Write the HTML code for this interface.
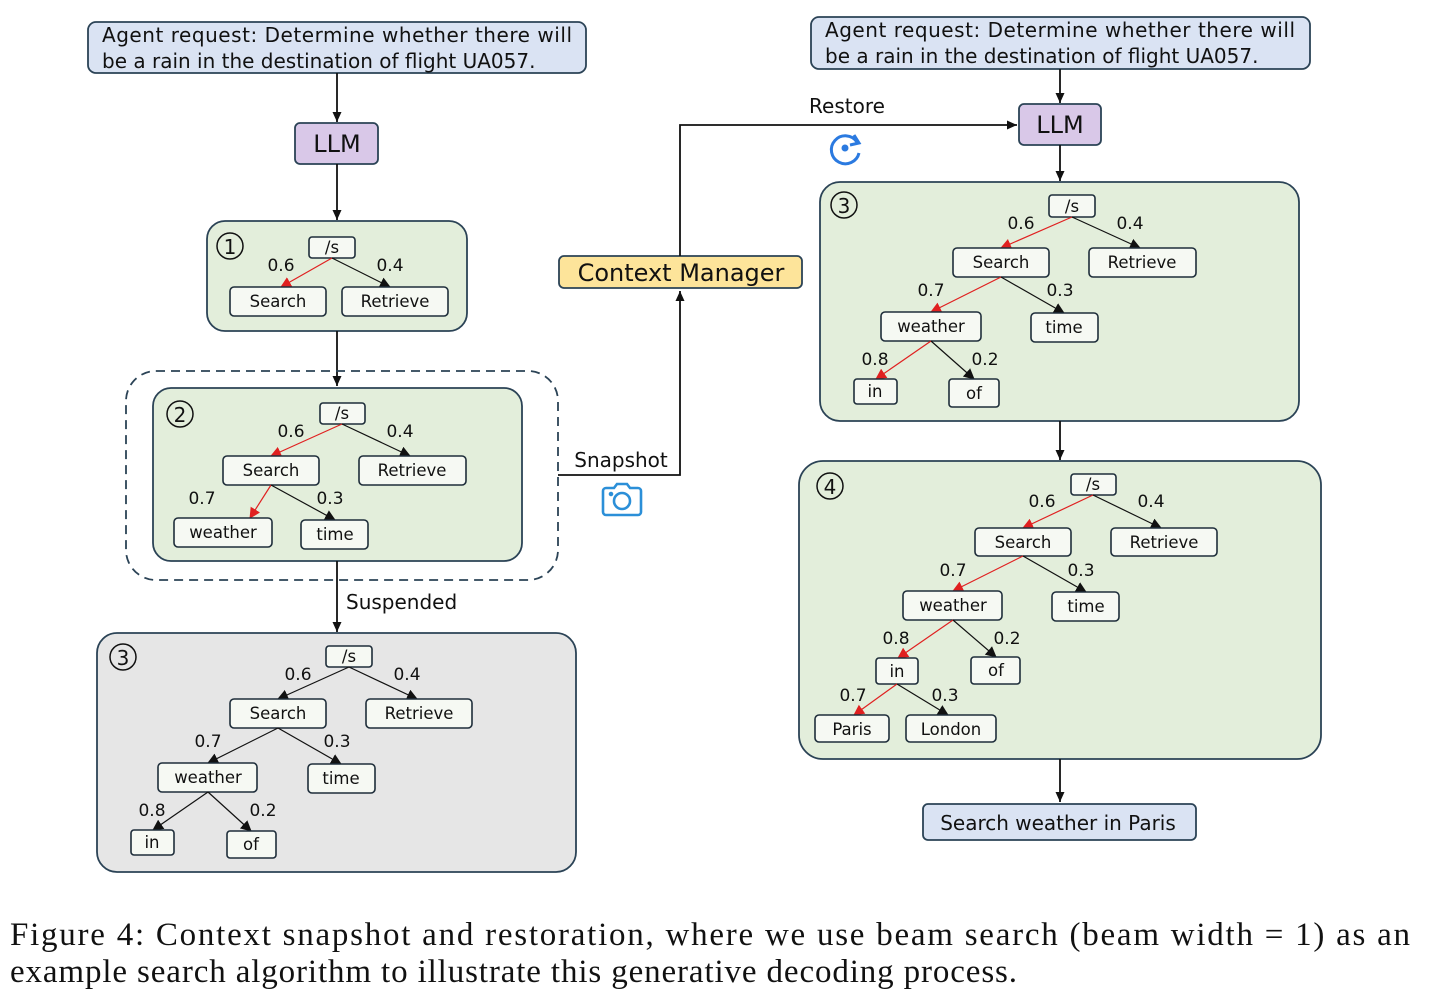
<!DOCTYPE html>
<html><head><meta charset="utf-8"><style>
html,body{margin:0;padding:0;background:#fff;}
svg{display:block;}
text{font-family:"DejaVu Sans","Liberation Sans",sans-serif;fill:#111;}
.n{font-size:16.5px;text-anchor:middle;}
.w{font-size:17px;text-anchor:middle;}
.cap{font-family:"Liberation Serif",serif;font-size:33px;}
.nb{fill:#f6f9f3;stroke:#1e2d3a;stroke-width:1.6;}
.pg{fill:#e3eedb;stroke:#2b4356;stroke-width:1.8;}
.pgr{fill:#e6e6e6;stroke:#2b4356;stroke-width:1.8;}
.bl{stroke:#111;stroke-width:1.2;fill:none;}
.rd{stroke:#e02020;stroke-width:1.2;fill:none;}
.ln{stroke:#111;stroke-width:1.8;fill:none;}
</style></head><body>
<svg width="1440" height="1002" xmlns="http://www.w3.org/2000/svg">
<defs>
<marker id="ab" markerWidth="14" markerHeight="14" refX="10" refY="6" orient="auto" markerUnits="userSpaceOnUse"><path d="M0,0.5 L11,6 L0,11.5z" fill="#111"/></marker>
<marker id="ar" markerWidth="14" markerHeight="14" refX="10" refY="6" orient="auto" markerUnits="userSpaceOnUse"><path d="M0,0.5 L11,6 L0,11.5z" fill="#e02020"/></marker>
<marker id="big" markerWidth="12" markerHeight="12" refX="10" refY="6" orient="auto" markerUnits="userSpaceOnUse"><path d="M0,1.5 L10,6 L0,10.5z" fill="#111"/></marker>
</defs>

<!-- LEFT -->
<rect x="88" y="22" width="498" height="51" rx="8" fill="#dae3f3" stroke="#2b4356" stroke-width="1.8"/>
<text x="102" y="42" font-size="20" textLength="470">Agent request: Determine whether there will</text>
<text x="102" y="68" font-size="20">be a rain in the destination of flight UA057.</text>
<line x1="337" y1="73" x2="337" y2="122" class="ln" marker-end="url(#big)"/>
<rect x="295" y="123" width="83" height="41" rx="5" fill="#d9c8e8" stroke="#2b4356" stroke-width="1.8"/>
<text x="337" y="152" font-size="24" text-anchor="middle">LLM</text>
<line x1="337" y1="164" x2="337" y2="220" class="ln" marker-end="url(#big)"/>

<!-- panel 1 -->
<rect x="207" y="221" width="260" height="110" rx="18" class="pg"/>
<circle cx="230" cy="246" r="13" fill="none" stroke="#111" stroke-width="1.5"/><text x="230" y="254" font-size="20" text-anchor="middle">1</text>
<rect x="309" y="237" width="46" height="21" rx="3" class="nb"/><text x="332" y="253" class="n">/s</text>
<line x1="332" y1="258" x2="281" y2="287" class="rd" marker-end="url(#ar)"/>
<line x1="332" y1="258" x2="390" y2="287" class="bl" marker-end="url(#ab)"/>
<text x="281" y="271" class="w">0.6</text><text x="390" y="271" class="w">0.4</text>
<rect x="230" y="287" width="96" height="29" rx="4" class="nb"/><text x="278" y="307" class="n">Search</text>
<rect x="342" y="287" width="106" height="29" rx="4" class="nb"/><text x="395" y="307" class="n">Retrieve</text>

<line x1="337" y1="331" x2="337" y2="386" class="ln" marker-end="url(#big)"/>
<rect x="126" y="371" width="432" height="209" rx="30" fill="none" stroke="#2b4356" stroke-width="1.8" stroke-dasharray="9,6"/>

<!-- panel 2 -->
<rect x="153" y="388" width="369" height="173" rx="18" class="pg"/>
<circle cx="180" cy="414" r="13" fill="none" stroke="#111" stroke-width="1.5"/><text x="180" y="422" font-size="20" text-anchor="middle">2</text>
<rect x="320" y="403" width="45" height="21" rx="3" class="nb"/><text x="342" y="419" class="n">/s</text>
<line x1="342" y1="424" x2="271" y2="456" class="rd" marker-end="url(#ar)"/>
<line x1="342" y1="424" x2="410" y2="456" class="bl" marker-end="url(#ab)"/>
<text x="291" y="437" class="w">0.6</text><text x="400" y="437" class="w">0.4</text>
<rect x="223" y="456" width="96" height="29" rx="4" class="nb"/><text x="271" y="476" class="n">Search</text>
<rect x="359" y="456" width="107" height="29" rx="4" class="nb"/><text x="412" y="476" class="n">Retrieve</text>
<line x1="271" y1="485" x2="250" y2="518" class="rd" marker-end="url(#ar)"/>
<line x1="271" y1="485" x2="335" y2="520" class="bl" marker-end="url(#ab)"/>
<text x="202" y="504" class="w">0.7</text><text x="330" y="504" class="w">0.3</text>
<rect x="174" y="518" width="98" height="29" rx="4" class="nb"/><text x="223" y="538" class="n">weather</text>
<rect x="301" y="520" width="67" height="29" rx="4" class="nb"/><text x="335" y="540" class="n">time</text>

<line x1="337" y1="561" x2="337" y2="632" class="ln" marker-end="url(#big)"/>
<text x="346" y="609" font-size="20">Suspended</text>

<!-- panel 3 grey -->
<rect x="97" y="633" width="479" height="239" rx="20" class="pgr"/>
<circle cx="123" cy="657" r="13" fill="none" stroke="#111" stroke-width="1.5"/><text x="123" y="665" font-size="20" text-anchor="middle">3</text>
<rect x="326" y="646" width="46" height="21" rx="3" class="nb"/><text x="349" y="662" class="n">/s</text>
<line x1="349" y1="667" x2="278" y2="699" class="bl" marker-end="url(#ab)"/>
<line x1="349" y1="667" x2="417" y2="699" class="bl" marker-end="url(#ab)"/>
<text x="298" y="680" class="w">0.6</text><text x="407" y="680" class="w">0.4</text>
<rect x="230" y="699" width="96" height="29" rx="4" class="nb"/><text x="278" y="719" class="n">Search</text>
<rect x="366" y="699" width="106" height="29" rx="4" class="nb"/><text x="419" y="719" class="n">Retrieve</text>
<line x1="278" y1="728" x2="208" y2="763" class="bl" marker-end="url(#ab)"/>
<line x1="278" y1="728" x2="341" y2="764" class="bl" marker-end="url(#ab)"/>
<text x="208" y="747" class="w">0.7</text><text x="337" y="747" class="w">0.3</text>
<rect x="158" y="763" width="99" height="29" rx="4" class="nb"/><text x="208" y="783" class="n">weather</text>
<rect x="308" y="764" width="67" height="29" rx="4" class="nb"/><text x="341" y="784" class="n">time</text>
<line x1="208" y1="792" x2="153" y2="830" class="bl" marker-end="url(#ab)"/>
<line x1="208" y1="792" x2="251" y2="831" class="bl" marker-end="url(#ab)"/>
<text x="152" y="816" class="w">0.8</text><text x="263" y="816" class="w">0.2</text>
<rect x="131" y="830" width="43" height="25" rx="3" class="nb"/><text x="152" y="848" class="n">in</text>
<rect x="227" y="831" width="49" height="27" rx="3" class="nb"/><text x="251" y="850" class="n">of</text>

<!-- MIDDLE -->
<polyline points="558,475 680,475 680,291" class="ln" marker-end="url(#big)"/>
<text x="621" y="467" font-size="20" text-anchor="middle">Snapshot</text>
<g transform="translate(603,482)" fill="none" stroke="#2b8fd8" stroke-width="2.6">
<path d="M3,6 h8 l3,-4 h10 l3,4 h8 a3,3 0 0 1 3,3 v21 a3,3 0 0 1 -3,3 h-32 a3,3 0 0 1 -3,-3 v-21 a3,3 0 0 1 3,-3z"/>
<circle cx="19" cy="19" r="8"/><circle cx="8" cy="12" r="1" fill="#2b8fd8"/>
</g>
<rect x="559" y="256" width="243" height="32" rx="5" fill="#fde49a" stroke="#2b4356" stroke-width="1.8"/>
<text x="681" y="281" font-size="24" text-anchor="middle">Context Manager</text>
<polyline points="680,256 680,125 1017,125" class="ln" marker-end="url(#big)"/>
<text x="847" y="113" font-size="20" text-anchor="middle">Restore</text>
<g transform="translate(845,148)" fill="none" stroke="#2b7ae0" stroke-width="3">
<path d="M12,-6 A14,14 0 1 0 14,5"/><path d="M9,-13 L14,-5 L5,-3" stroke-width="3"/>
<circle cx="0" cy="0" r="3.5" fill="#2b7ae0" stroke="none"/>
</g>

<!-- RIGHT -->
<rect x="811" y="17" width="499" height="52" rx="8" fill="#dae3f3" stroke="#2b4356" stroke-width="1.8"/>
<text x="825" y="37" font-size="20" textLength="470">Agent request: Determine whether there will</text>
<text x="825" y="63" font-size="20">be a rain in the destination of flight UA057.</text>
<line x1="1060" y1="69" x2="1060" y2="103" class="ln" marker-end="url(#big)"/>
<rect x="1019" y="104" width="82" height="41" rx="5" fill="#d9c8e8" stroke="#2b4356" stroke-width="1.8"/>
<text x="1060" y="133" font-size="24" text-anchor="middle">LLM</text>
<line x1="1060" y1="145" x2="1060" y2="181" class="ln" marker-end="url(#big)"/>

<!-- panel R3 -->
<rect x="820" y="182" width="479" height="239" rx="20" class="pg"/>
<circle cx="844" cy="205" r="13" fill="none" stroke="#111" stroke-width="1.5"/><text x="844" y="213" font-size="20" text-anchor="middle">3</text>
<rect x="1049" y="195" width="46" height="22" rx="3" class="nb"/><text x="1072" y="212" class="n">/s</text>
<line x1="1072" y1="217" x2="1001" y2="248" class="rd" marker-end="url(#ar)"/>
<line x1="1072" y1="217" x2="1140" y2="248" class="bl" marker-end="url(#ab)"/>
<text x="1021" y="229" class="w">0.6</text><text x="1130" y="229" class="w">0.4</text>
<rect x="953" y="248" width="96" height="29" rx="4" class="nb"/><text x="1001" y="268" class="n">Search</text>
<rect x="1089" y="248" width="107" height="29" rx="4" class="nb"/><text x="1142" y="268" class="n">Retrieve</text>
<line x1="1001" y1="277" x2="931" y2="312" class="rd" marker-end="url(#ar)"/>
<line x1="1001" y1="277" x2="1064" y2="313" class="bl" marker-end="url(#ab)"/>
<text x="931" y="296" class="w">0.7</text><text x="1060" y="296" class="w">0.3</text>
<rect x="881" y="312" width="100" height="29" rx="4" class="nb"/><text x="931" y="332" class="n">weather</text>
<rect x="1031" y="313" width="67" height="29" rx="4" class="nb"/><text x="1064" y="333" class="n">time</text>
<line x1="931" y1="341" x2="876" y2="379" class="rd" marker-end="url(#ar)"/>
<line x1="931" y1="341" x2="974" y2="379" class="bl" marker-end="url(#ab)"/>
<text x="875" y="365" class="w">0.8</text><text x="985" y="365" class="w">0.2</text>
<rect x="854" y="379" width="43" height="25" rx="3" class="nb"/><text x="875" y="397" class="n">in</text>
<rect x="949" y="379" width="50" height="28" rx="3" class="nb"/><text x="974" y="399" class="n">of</text>

<line x1="1060" y1="421" x2="1060" y2="460" class="ln" marker-end="url(#big)"/>

<!-- panel R4 -->
<rect x="799" y="461" width="522" height="298" rx="24" class="pg"/>
<circle cx="830" cy="486" r="13" fill="none" stroke="#111" stroke-width="1.5"/><text x="830" y="494" font-size="20" text-anchor="middle">4</text>
<rect x="1071" y="474" width="45" height="21" rx="3" class="nb"/><text x="1093" y="490" class="n">/s</text>
<line x1="1093" y1="495" x2="1023" y2="528" class="rd" marker-end="url(#ar)"/>
<line x1="1093" y1="495" x2="1161" y2="528" class="bl" marker-end="url(#ab)"/>
<text x="1042" y="507" class="w">0.6</text><text x="1151" y="507" class="w">0.4</text>
<rect x="975" y="528" width="96" height="28" rx="4" class="nb"/><text x="1023" y="548" class="n">Search</text>
<rect x="1111" y="528" width="106" height="28" rx="4" class="nb"/><text x="1164" y="548" class="n">Retrieve</text>
<line x1="1023" y1="556" x2="953" y2="591" class="rd" marker-end="url(#ar)"/>
<line x1="1023" y1="556" x2="1086" y2="592" class="bl" marker-end="url(#ab)"/>
<text x="953" y="576" class="w">0.7</text><text x="1081" y="576" class="w">0.3</text>
<rect x="903" y="591" width="99" height="29" rx="4" class="nb"/><text x="953" y="611" class="n">weather</text>
<rect x="1052" y="592" width="67" height="29" rx="4" class="nb"/><text x="1086" y="612" class="n">time</text>
<line x1="953" y1="620" x2="898" y2="658" class="rd" marker-end="url(#ar)"/>
<line x1="953" y1="620" x2="996" y2="657" class="bl" marker-end="url(#ab)"/>
<text x="896" y="644" class="w">0.8</text><text x="1007" y="644" class="w">0.2</text>
<rect x="876" y="658" width="42" height="26" rx="3" class="nb"/><text x="897" y="677" class="n">in</text>
<rect x="971" y="657" width="49" height="27" rx="3" class="nb"/><text x="996" y="676" class="n">of</text>
<line x1="897" y1="684" x2="854" y2="715" class="rd" marker-end="url(#ar)"/>
<line x1="897" y1="684" x2="948" y2="715" class="bl" marker-end="url(#ab)"/>
<text x="853" y="701" class="w">0.7</text><text x="945" y="701" class="w">0.3</text>
<rect x="815" y="715" width="74" height="27" rx="4" class="nb"/><text x="852" y="735" class="n">Paris</text>
<rect x="906" y="715" width="90" height="27" rx="4" class="nb"/><text x="951" y="735" class="n">London</text>

<line x1="1060" y1="759" x2="1060" y2="802" class="ln" marker-end="url(#big)"/>
<rect x="923" y="804" width="273" height="36" rx="5" fill="#dae3f3" stroke="#2b4356" stroke-width="1.8"/>
<text x="1058" y="830" font-size="20" text-anchor="middle">Search weather in Paris</text>

<!-- caption -->
<text x="10" y="945" class="cap" textLength="1400">Figure 4: Context snapshot and restoration, where we use beam search (beam width = 1) as an</text>
<text x="10" y="982" class="cap" textLength="1007">example search algorithm to illustrate this generative decoding process.</text>
</svg>
</body></html>
